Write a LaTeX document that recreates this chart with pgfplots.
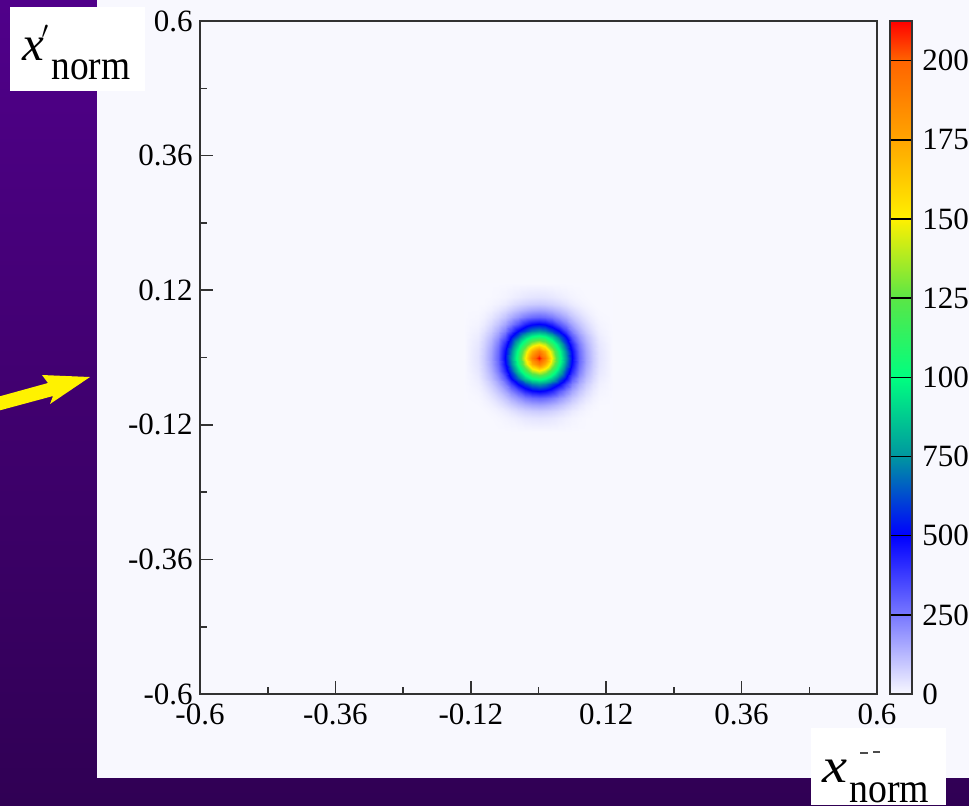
\documentclass[border=0pt]{standalone}
\usepackage{fontspec}
\setmainfont{Liberation Serif}
\usepackage{graphicx}
\usepackage{pgfplots}
\pgfplotsset{compat=1.18}
\definecolor{panelc}{RGB}{248,248,254}
\definecolor{purtop}{RGB}{80,0,138}
\definecolor{purbot}{RGB}{48,0,84}
\definecolor{framec}{RGB}{50,50,50}

\begin{document}
\begin{tikzpicture}[x=0.5pt,y=-0.5pt]
% background, panel, arrow (pixel coordinates)
\shade[top color=purtop,bottom color=purbot] (0,0) rectangle (969,805);
\fill[panelc] (97,0) rectangle (969,778);
\fill[yellow] (-10,399) -- (48,383) -- (42,375) -- (90,377) -- (50,404) -- (53,396) -- (-10,413) -- cycle;
\coordinate (axsw) at (200,694);

\begin{axis}[
    at={(axsw)}, anchor=south west,
    scale only axis, width=338.5pt, height=336.5pt,
    xmin=-0.6, xmax=0.6, ymin=-0.6, ymax=0.6,
    xtick={-0.6,-0.36,-0.12,0.12,0.36,0.6},
    ytick={-0.6,-0.36,-0.12,0.12,0.36,0.6},
    minor xtick={-0.48,-0.24,0,0.24,0.48},
    minor ytick={-0.48,-0.24,0,0.24,0.48},
    xtick pos=left, ytick pos=left, tick align=inside,
    major tick length=6.5pt, minor tick length=3.5pt,
    tick style={framec, line width=0.8pt},
    axis line style={framec, line width=0.9pt},
    axis background/.style={fill=panelc},
    /pgf/number format/assume math mode=true,
    ticklabel style={font=\fontsize{15.5}{16}\selectfont, inner sep=0pt},
    xticklabel style={anchor=north, yshift=-4.5pt},
    yticklabel style={anchor=east, xshift=-3.5pt},
    colormap={beam}{rgb255(0pt)=(248,248,255) rgb255(250pt)=(120,120,255)
        rgb255(500pt)=(0,0,255) rgb255(750pt)=(0,150,160) rgb255(1000pt)=(0,255,128)
        rgb255(1250pt)=(90,230,70) rgb255(1500pt)=(255,240,0) rgb255(1750pt)=(255,165,0)
        rgb255(2000pt)=(255,100,0) rgb255(2125pt)=(255,0,0)},
    point meta min=0, point meta max=2125,
    colorbar,
    colorbar style={
        at={(parent axis.north east)}, anchor=north west, xshift=-2pt,
        scale only axis, width=11pt, height=336.5pt,
        ytick={0,250,500,750,1000,1250,1500,1750,2000},
        major tick length=0pt, scaled y ticks=false,
        ymajorgrids=true, grid style={black, line width=0.8pt},
        axis on top,
        axis line style={framec, line width=0.9pt},
        /pgf/number format/assume math mode=true,
        /pgf/number format/1000 sep={},
        yticklabel style={font=\fontsize{15.5}{16}\selectfont, inner sep=0pt, anchor=west, xshift=5pt},
    },
]
\addplot[surf, shader=interp, mesh/cols=21, point meta=explicit] coordinates {
(-0.132,-0.132)[0] (-0.108,-0.132)[0] (-0.096,-0.132)[0] (-0.084,-0.132)[0] (-0.072,-0.132)[0] (-0.06,-0.132)[0] (-0.048,-0.132)[0] (-0.036,-0.132)[0] (-0.024,-0.132)[0] (-0.012,-0.132)[0] (0,-0.132)[0] (0.012,-0.132)[0] (0.024,-0.132)[0] (0.036,-0.132)[0] (0.048,-0.132)[0] (0.06,-0.132)[0] (0.072,-0.132)[0] (0.084,-0.132)[0] (0.096,-0.132)[0] (0.108,-0.132)[0] (0.132,-0.132)[0]

(-0.132,-0.108)[0] (-0.108,-0.108)[0] (-0.096,-0.108)[0] (-0.084,-0.108)[1] (-0.072,-0.108)[4] (-0.06,-0.108)[9] (-0.048,-0.108)[16] (-0.036,-0.108)[24] (-0.024,-0.108)[33] (-0.012,-0.108)[38] (0,-0.108)[40] (0.012,-0.108)[38] (0.024,-0.108)[33] (0.036,-0.108)[24] (0.048,-0.108)[16] (0.06,-0.108)[9] (0.072,-0.108)[4] (0.084,-0.108)[1] (0.096,-0.108)[0] (0.108,-0.108)[0] (0.132,-0.108)[0]

(-0.132,-0.096)[0] (-0.108,-0.096)[0] (-0.096,-0.096)[1] (-0.084,-0.096)[6] (-0.072,-0.096)[14] (-0.06,-0.096)[26] (-0.048,-0.096)[42] (-0.036,-0.096)[60] (-0.024,-0.096)[74] (-0.012,-0.096)[84] (0,-0.096)[88] (0.012,-0.096)[84] (0.024,-0.096)[74] (0.036,-0.096)[60] (0.048,-0.096)[42] (0.06,-0.096)[26] (0.072,-0.096)[14] (0.084,-0.096)[6] (0.096,-0.096)[1] (0.108,-0.096)[0] (0.132,-0.096)[0]

(-0.132,-0.084)[0] (-0.108,-0.084)[1] (-0.096,-0.084)[6] (-0.084,-0.084)[15] (-0.072,-0.084)[33] (-0.06,-0.084)[57] (-0.048,-0.084)[84] (-0.036,-0.084)[114] (-0.024,-0.084)[140] (-0.012,-0.084)[160] (0,-0.084)[167] (0.012,-0.084)[160] (0.024,-0.084)[140] (0.036,-0.084)[114] (0.048,-0.084)[84] (0.06,-0.084)[57] (0.072,-0.084)[33] (0.084,-0.084)[15] (0.096,-0.084)[6] (0.108,-0.084)[1] (0.132,-0.084)[0]

(-0.132,-0.072)[0] (-0.108,-0.072)[4] (-0.096,-0.072)[14] (-0.084,-0.072)[33] (-0.072,-0.072)[63] (-0.06,-0.072)[101] (-0.048,-0.072)[147] (-0.036,-0.072)[194] (-0.024,-0.072)[244] (-0.012,-0.072)[276] (0,-0.072)[288] (0.012,-0.072)[276] (0.024,-0.072)[244] (0.036,-0.072)[194] (0.048,-0.072)[147] (0.06,-0.072)[101] (0.072,-0.072)[63] (0.084,-0.072)[33] (0.096,-0.072)[14] (0.108,-0.072)[4] (0.132,-0.072)[0]

(-0.132,-0.06)[0] (-0.108,-0.06)[9] (-0.096,-0.06)[26] (-0.084,-0.06)[57] (-0.072,-0.06)[101] (-0.06,-0.06)[160] (-0.048,-0.06)[233] (-0.036,-0.06)[318] (-0.024,-0.06)[420] (-0.012,-0.06)[484] (0,-0.06)[505] (0.012,-0.06)[484] (0.024,-0.06)[420] (0.036,-0.06)[318] (0.048,-0.06)[233] (0.06,-0.06)[160] (0.072,-0.06)[101] (0.084,-0.06)[57] (0.096,-0.06)[26] (0.108,-0.06)[9] (0.132,-0.06)[0]

(-0.132,-0.048)[0] (-0.108,-0.048)[16] (-0.096,-0.048)[42] (-0.084,-0.048)[84] (-0.072,-0.048)[147] (-0.06,-0.048)[233] (-0.048,-0.048)[358] (-0.036,-0.048)[505] (-0.024,-0.048)[612] (-0.012,-0.048)[716] (0,-0.048)[754] (0.012,-0.048)[716] (0.024,-0.048)[612] (0.036,-0.048)[505] (0.048,-0.048)[358] (0.06,-0.048)[233] (0.072,-0.048)[147] (0.084,-0.048)[84] (0.096,-0.048)[42] (0.108,-0.048)[16] (0.132,-0.048)[0]

(-0.132,-0.036)[0] (-0.108,-0.036)[24] (-0.096,-0.036)[60] (-0.084,-0.036)[114] (-0.072,-0.036)[194] (-0.06,-0.036)[318] (-0.048,-0.036)[505] (-0.036,-0.036)[679] (-0.024,-0.036)[880] (-0.012,-0.036)[1029] (0,-0.036)[1084] (0.012,-0.036)[1029] (0.024,-0.036)[880] (0.036,-0.036)[679] (0.048,-0.036)[505] (0.06,-0.036)[318] (0.072,-0.036)[194] (0.084,-0.036)[114] (0.096,-0.036)[60] (0.108,-0.036)[24] (0.132,-0.036)[0]

(-0.132,-0.024)[0] (-0.108,-0.024)[33] (-0.096,-0.024)[74] (-0.084,-0.024)[140] (-0.072,-0.024)[244] (-0.06,-0.024)[420] (-0.048,-0.024)[612] (-0.036,-0.024)[880] (-0.024,-0.024)[1143] (-0.012,-0.024)[1380] (0,-0.024)[1480] (0.012,-0.024)[1380] (0.024,-0.024)[1143] (0.036,-0.024)[880] (0.048,-0.024)[612] (0.06,-0.024)[420] (0.072,-0.024)[244] (0.084,-0.024)[140] (0.096,-0.024)[74] (0.108,-0.024)[33] (0.132,-0.024)[0]

(-0.132,-0.012)[0] (-0.108,-0.012)[38] (-0.096,-0.012)[84] (-0.084,-0.012)[160] (-0.072,-0.012)[276] (-0.06,-0.012)[484] (-0.048,-0.012)[716] (-0.036,-0.012)[1029] (-0.024,-0.012)[1380] (-0.012,-0.012)[1720] (0,-0.012)[1900] (0.012,-0.012)[1720] (0.024,-0.012)[1380] (0.036,-0.012)[1029] (0.048,-0.012)[716] (0.06,-0.012)[484] (0.072,-0.012)[276] (0.084,-0.012)[160] (0.096,-0.012)[84] (0.108,-0.012)[38] (0.132,-0.012)[0]

(-0.132,0)[0] (-0.108,0)[40] (-0.096,0)[88] (-0.084,0)[167] (-0.072,0)[288] (-0.06,0)[505] (-0.048,0)[754] (-0.036,0)[1084] (-0.024,0)[1480] (-0.012,0)[1900] (0,0)[2110] (0.012,0)[1900] (0.024,0)[1480] (0.036,0)[1084] (0.048,0)[754] (0.06,0)[505] (0.072,0)[288] (0.084,0)[167] (0.096,0)[88] (0.108,0)[40] (0.132,0)[0]

(-0.132,0.012)[0] (-0.108,0.012)[38] (-0.096,0.012)[84] (-0.084,0.012)[160] (-0.072,0.012)[276] (-0.06,0.012)[484] (-0.048,0.012)[716] (-0.036,0.012)[1029] (-0.024,0.012)[1380] (-0.012,0.012)[1720] (0,0.012)[1900] (0.012,0.012)[1720] (0.024,0.012)[1380] (0.036,0.012)[1029] (0.048,0.012)[716] (0.06,0.012)[484] (0.072,0.012)[276] (0.084,0.012)[160] (0.096,0.012)[84] (0.108,0.012)[38] (0.132,0.012)[0]

(-0.132,0.024)[0] (-0.108,0.024)[33] (-0.096,0.024)[74] (-0.084,0.024)[140] (-0.072,0.024)[244] (-0.06,0.024)[420] (-0.048,0.024)[612] (-0.036,0.024)[880] (-0.024,0.024)[1143] (-0.012,0.024)[1380] (0,0.024)[1480] (0.012,0.024)[1380] (0.024,0.024)[1143] (0.036,0.024)[880] (0.048,0.024)[612] (0.06,0.024)[420] (0.072,0.024)[244] (0.084,0.024)[140] (0.096,0.024)[74] (0.108,0.024)[33] (0.132,0.024)[0]

(-0.132,0.036)[0] (-0.108,0.036)[24] (-0.096,0.036)[60] (-0.084,0.036)[114] (-0.072,0.036)[194] (-0.06,0.036)[318] (-0.048,0.036)[505] (-0.036,0.036)[679] (-0.024,0.036)[880] (-0.012,0.036)[1029] (0,0.036)[1084] (0.012,0.036)[1029] (0.024,0.036)[880] (0.036,0.036)[679] (0.048,0.036)[505] (0.06,0.036)[318] (0.072,0.036)[194] (0.084,0.036)[114] (0.096,0.036)[60] (0.108,0.036)[24] (0.132,0.036)[0]

(-0.132,0.048)[0] (-0.108,0.048)[16] (-0.096,0.048)[42] (-0.084,0.048)[84] (-0.072,0.048)[147] (-0.06,0.048)[233] (-0.048,0.048)[358] (-0.036,0.048)[505] (-0.024,0.048)[612] (-0.012,0.048)[716] (0,0.048)[754] (0.012,0.048)[716] (0.024,0.048)[612] (0.036,0.048)[505] (0.048,0.048)[358] (0.06,0.048)[233] (0.072,0.048)[147] (0.084,0.048)[84] (0.096,0.048)[42] (0.108,0.048)[16] (0.132,0.048)[0]

(-0.132,0.06)[0] (-0.108,0.06)[9] (-0.096,0.06)[26] (-0.084,0.06)[57] (-0.072,0.06)[101] (-0.06,0.06)[160] (-0.048,0.06)[233] (-0.036,0.06)[318] (-0.024,0.06)[420] (-0.012,0.06)[484] (0,0.06)[505] (0.012,0.06)[484] (0.024,0.06)[420] (0.036,0.06)[318] (0.048,0.06)[233] (0.06,0.06)[160] (0.072,0.06)[101] (0.084,0.06)[57] (0.096,0.06)[26] (0.108,0.06)[9] (0.132,0.06)[0]

(-0.132,0.072)[0] (-0.108,0.072)[4] (-0.096,0.072)[14] (-0.084,0.072)[33] (-0.072,0.072)[63] (-0.06,0.072)[101] (-0.048,0.072)[147] (-0.036,0.072)[194] (-0.024,0.072)[244] (-0.012,0.072)[276] (0,0.072)[288] (0.012,0.072)[276] (0.024,0.072)[244] (0.036,0.072)[194] (0.048,0.072)[147] (0.06,0.072)[101] (0.072,0.072)[63] (0.084,0.072)[33] (0.096,0.072)[14] (0.108,0.072)[4] (0.132,0.072)[0]

(-0.132,0.084)[0] (-0.108,0.084)[1] (-0.096,0.084)[6] (-0.084,0.084)[15] (-0.072,0.084)[33] (-0.06,0.084)[57] (-0.048,0.084)[84] (-0.036,0.084)[114] (-0.024,0.084)[140] (-0.012,0.084)[160] (0,0.084)[167] (0.012,0.084)[160] (0.024,0.084)[140] (0.036,0.084)[114] (0.048,0.084)[84] (0.06,0.084)[57] (0.072,0.084)[33] (0.084,0.084)[15] (0.096,0.084)[6] (0.108,0.084)[1] (0.132,0.084)[0]

(-0.132,0.096)[0] (-0.108,0.096)[0] (-0.096,0.096)[1] (-0.084,0.096)[6] (-0.072,0.096)[14] (-0.06,0.096)[26] (-0.048,0.096)[42] (-0.036,0.096)[60] (-0.024,0.096)[74] (-0.012,0.096)[84] (0,0.096)[88] (0.012,0.096)[84] (0.024,0.096)[74] (0.036,0.096)[60] (0.048,0.096)[42] (0.06,0.096)[26] (0.072,0.096)[14] (0.084,0.096)[6] (0.096,0.096)[1] (0.108,0.096)[0] (0.132,0.096)[0]

(-0.132,0.108)[0] (-0.108,0.108)[0] (-0.096,0.108)[0] (-0.084,0.108)[1] (-0.072,0.108)[4] (-0.06,0.108)[9] (-0.048,0.108)[16] (-0.036,0.108)[24] (-0.024,0.108)[33] (-0.012,0.108)[38] (0,0.108)[40] (0.012,0.108)[38] (0.024,0.108)[33] (0.036,0.108)[24] (0.048,0.108)[16] (0.06,0.108)[9] (0.072,0.108)[4] (0.084,0.108)[1] (0.096,0.108)[0] (0.108,0.108)[0] (0.132,0.108)[0]

(-0.132,0.132)[0] (-0.108,0.132)[0] (-0.096,0.132)[0] (-0.084,0.132)[0] (-0.072,0.132)[0] (-0.06,0.132)[0] (-0.048,0.132)[0] (-0.036,0.132)[0] (-0.024,0.132)[0] (-0.012,0.132)[0] (0,0.132)[0] (0.012,0.132)[0] (0.024,0.132)[0] (0.036,0.132)[0] (0.048,0.132)[0] (0.06,0.132)[0] (0.072,0.132)[0] (0.084,0.132)[0] (0.096,0.132)[0] (0.108,0.132)[0] (0.132,0.132)[0]
};
\end{axis}

% axis titles in white boxes
\fill[white] (10,7) rectangle (145,91);
\node[anchor=base west, inner sep=0pt, font=\fontsize{24.5}{25}\selectfont\itshape] at (22,60) {x};
\node[inner sep=0pt, font=\fontsize{13}{13}\selectfont] at (45,32) {$\prime$};
\node[anchor=base west, inner sep=0pt, font=\fontsize{21}{22}\selectfont] at (51,79) {\scalebox{0.89}[1]{norm}};
\fill[white] (811,728) rectangle (946,805);
\node[anchor=base west, inner sep=0pt, font=\fontsize{24.5}{25}\selectfont\itshape] at (822,782) {\scalebox{1.15}[1]{x}};
\node[anchor=base west, inner sep=0pt, font=\fontsize{21}{22}\selectfont] at (849,802) {\scalebox{0.9}[1]{norm}};
\draw[black!70, line width=1pt] (860,753) -- (868,753) (873,752) -- (880,752);

\pgfresetboundingbox
\path[use as bounding box] (0,0) rectangle (969,805);
\end{tikzpicture}
\end{document}
